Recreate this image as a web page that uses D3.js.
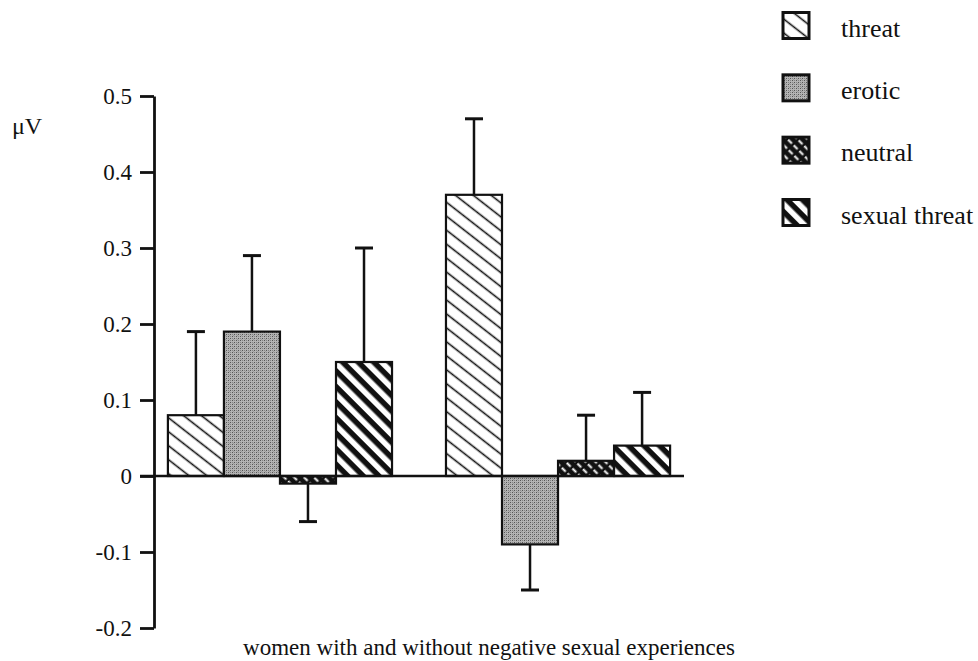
<!DOCTYPE html>
<html>
<head>
<meta charset="utf-8">
<script src="https://cdn.jsdelivr.net/npm/d3@7"></script>
<style>
  html, body { margin: 0; padding: 0; background: #fff; }
  svg { display: block; }
</style>
</head>
<body>
<svg id="chart" width="978" height="661"></svg>
<script>
// Mean amplitudes (µV) per picture category, with upper/lower error ends
const groups = ["with", "without"];
const series = ["threat", "erotic", "neutral", "sexual threat"];
const meanWith = [0.08, 0.19, -0.01, 0.15];
const meanWithout = [0.37, -0.09, 0.02, 0.04];
const errWith = [0.19, 0.29, -0.06, 0.30];
const errWithout = [0.47, -0.15, 0.08, 0.11];
const yTicks = [-0.2, -0.1, 0, 0.1, 0.2, 0.3, 0.4, 0.5];
const yTickLabels = ["-0.2", "-0.1", "0", "0.1", "0.2", "0.3", "0.4", "0.5"];
const xTitle = "women with and without negative sexual experiences";
const yTitle = "\u03BCV";

const SERIF = '"Liberation Serif", "Times New Roman", serif';
const INK = "#111";

const svg = d3.select("#chart");
const defs = svg.append("defs");

// Fill patterns for the four categories
const pThreat = defs.append("pattern").attr("id", "p-threat")
  .attr("patternUnits", "userSpaceOnUse").attr("width", 20).attr("height", 11)
  .attr("patternTransform", "rotate(38)");
pThreat.append("rect").attr("width", 20).attr("height", 11).attr("fill", "#fff");
pThreat.append("line").attr("x1", 0).attr("x2", 20).attr("y1", 5.5).attr("y2", 5.5)
  .attr("stroke", INK).attr("stroke-width", 1.6);

const pErotic = defs.append("pattern").attr("id", "p-erotic")
  .attr("patternUnits", "userSpaceOnUse").attr("width", 4).attr("height", 4);
pErotic.append("rect").attr("width", 4).attr("height", 4).attr("fill", "#b4b4b4");
[[0, 0, "#555"], [2, 2, "#555"], [2, 0, "#848484"], [0, 2, "#848484"], [1, 3, "#9a9a9a"]]
  .forEach(([px, py, c]) => pErotic.append("rect")
    .attr("x", px).attr("y", py).attr("width", 1).attr("height", 1).attr("fill", c));

const pNeutral = defs.append("pattern").attr("id", "p-neutral")
  .attr("patternUnits", "userSpaceOnUse").attr("width", 8).attr("height", 7)
  .attr("patternTransform", "rotate(45)");
pNeutral.append("rect").attr("width", 8).attr("height", 7).attr("fill", INK);
pNeutral.append("line").attr("x1", 0).attr("x2", 5.5).attr("y1", 3.5).attr("y2", 3.5)
  .attr("stroke", "#fff").attr("stroke-width", 2);

const pSexual = defs.append("pattern").attr("id", "p-sexual")
  .attr("patternUnits", "userSpaceOnUse").attr("width", 20).attr("height", 11)
  .attr("patternTransform", "rotate(45)");
pSexual.append("rect").attr("width", 20).attr("height", 11).attr("fill", "#fff");
pSexual.append("rect").attr("x", 0).attr("y", 0).attr("width", 20).attr("height", 5.5).attr("fill", INK);

const fills = ["url(#p-threat)", "url(#p-erotic)", "url(#p-neutral)", "url(#p-sexual)"];

// Scales
const y = d3.scaleLinear().domain([-0.2, 0.5]).range([628, 96]);
const x0 = d3.scaleBand().domain(groups).range([154, 684]).paddingInner(0.194).paddingOuter(0.05);
const x1 = d3.scaleBand().domain(series).range([0, x0.bandwidth()]).padding(0);

const rows = [];
groups.forEach((g, gi) => {
  const means = gi === 0 ? meanWith : meanWithout;
  const errs = gi === 0 ? errWith : errWithout;
  series.forEach((s, si) => rows.push({ g, s, si, v: means[si], e: errs[si] }));
});

// Error bars (drawn first so bar outlines sit on top)
const eb = svg.append("g").attr("stroke", INK).attr("stroke-linecap", "butt");
rows.forEach(d => {
  const cx = x0(d.g) + x1(d.s) + x1.bandwidth() / 2;
  eb.append("line").attr("x1", cx).attr("x2", cx)
    .attr("y1", y(d.v)).attr("y2", y(d.e)).attr("stroke-width", 2.5);
  eb.append("line").attr("x1", cx - 9).attr("x2", cx + 9)
    .attr("y1", y(d.e)).attr("y2", y(d.e)).attr("stroke-width", 3);
});

// Bars
svg.append("g").selectAll("rect").data(rows).join("rect")
  .attr("x", d => x0(d.g) + x1(d.s))
  .attr("y", d => y(Math.max(0, d.v)))
  .attr("width", x1.bandwidth())
  .attr("height", d => Math.abs(y(d.v) - y(0)))
  .attr("fill", d => fills[d.si])
  .attr("stroke", INK).attr("stroke-width", 2.2);

// Zero line
svg.append("line").attr("x1", 140).attr("x2", 684)
  .attr("y1", y(0)).attr("y2", y(0))
  .attr("stroke", INK).attr("stroke-width", 2.5);

// Y axis
const yAxis = d3.axisLeft(y).tickValues(yTicks)
  .tickFormat((d, i) => yTickLabels[i]).tickSize(14).tickPadding(8).tickSizeOuter(0);
const ag = svg.append("g").attr("transform", "translate(154,0)").call(yAxis)
  .attr("font-family", null).attr("font-size", null);
ag.select(".domain").attr("stroke", INK).attr("stroke-width", 2.8);
ag.selectAll(".tick line").attr("stroke", INK).attr("stroke-width", 2.8);
ag.selectAll(".tick text")
  .style("font-family", SERIF).style("font-size", "23px").attr("fill", INK);

// Axis titles
svg.append("text").attr("x", 12).attr("y", 134)
  .style("font-family", SERIF).style("font-size", "24px").attr("fill", INK).text(yTitle);
svg.append("text").attr("x", 489).attr("y", 655).attr("text-anchor", "middle")
  .style("font-family", SERIF).style("font-size", "23px").attr("fill", INK).text(xTitle);

// Legend
const ly = d3.scalePoint().domain(series).range([25.5, 212.5]);
const lg = svg.append("g");
series.forEach((s, i) => {
  lg.append("rect").attr("x", 783).attr("y", ly(s) - 13).attr("width", 26).attr("height", 26)
    .attr("fill", fills[i]).attr("stroke", INK).attr("stroke-width", 3);
  lg.append("text").attr("x", 841).attr("y", ly(s) + 11)
    .style("font-family", SERIF).style("font-size", "26px").attr("fill", INK).text(s);
});
</script>
</body>
</html>
